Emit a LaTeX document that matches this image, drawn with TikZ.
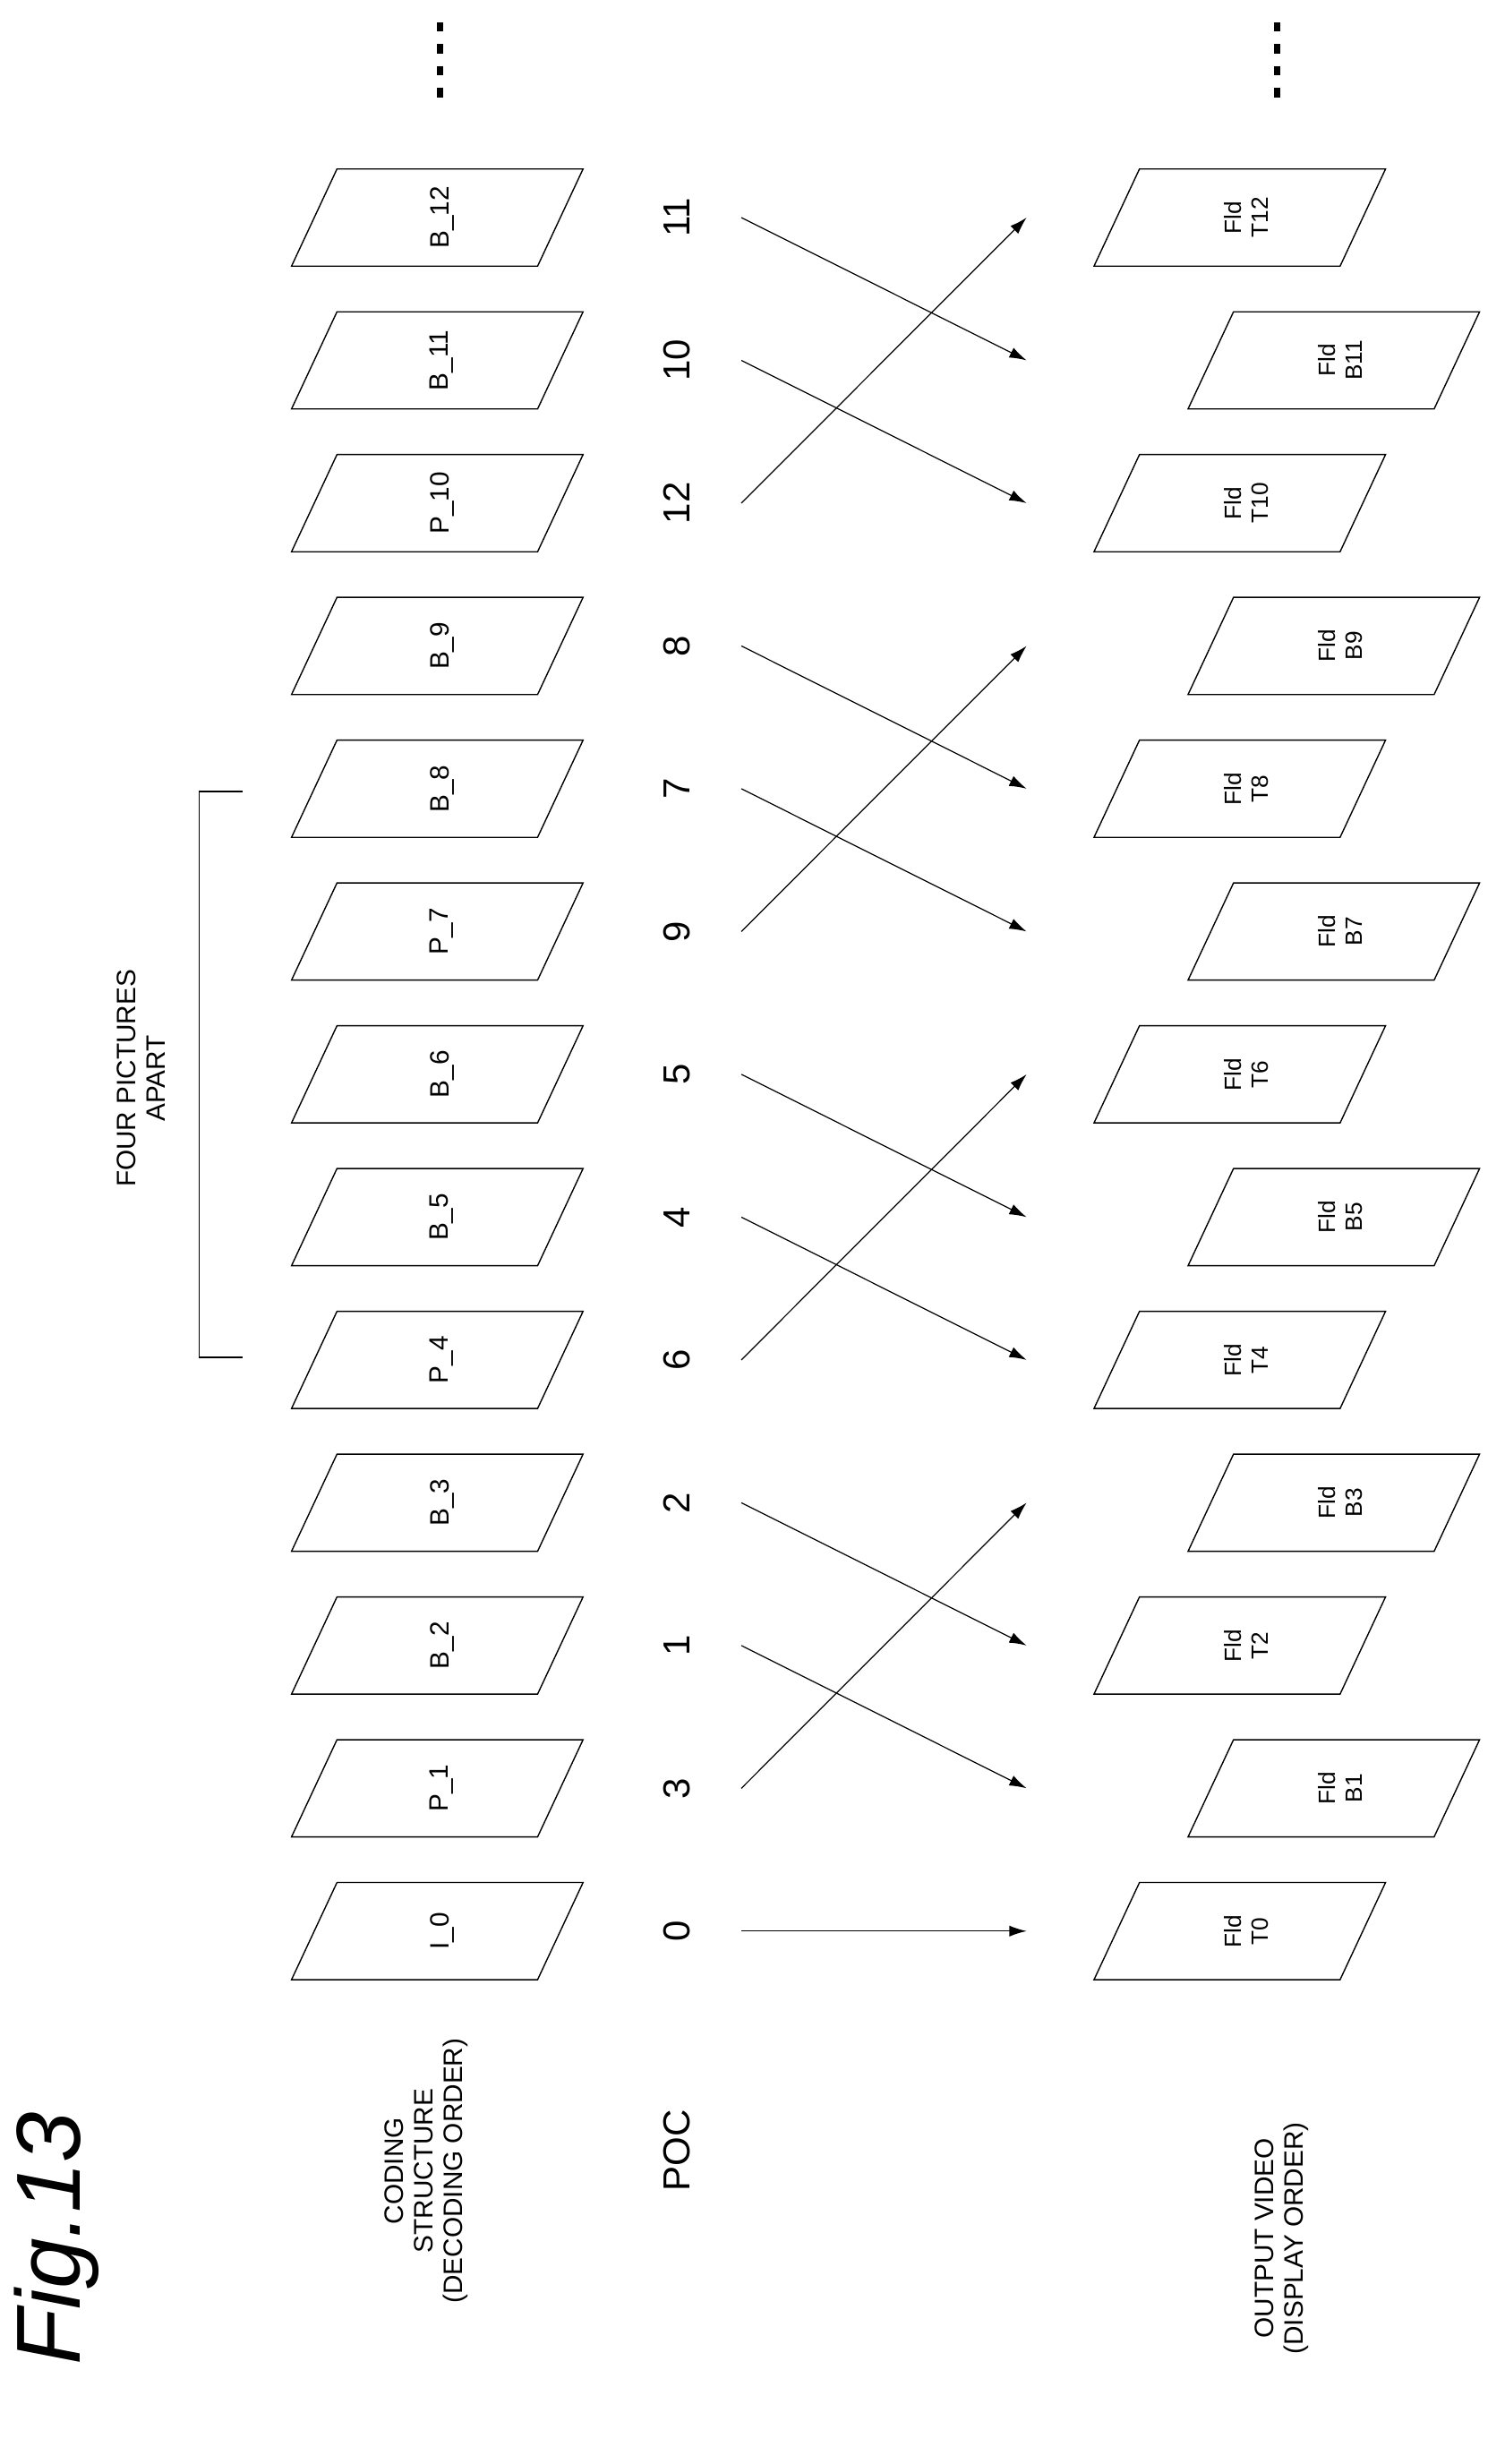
\documentclass[tikz,border=0pt]{standalone}
\usepackage{fontspec}
\setmainfont{Liberation Sans}
\usetikzlibrary{arrows.meta}
\begin{document}
\begin{tikzpicture}[x=1pt,y=-1pt,
  pic/.style={draw,line width=0.8pt},
  lbl/.style={rotate=90,font=\fontsize{17}{19}\selectfont,align=center},
  num/.style={rotate=90,font=\fontsize{24}{26}\selectfont},
  arr/.style={line width=0.7pt,-{Latex[length=11pt,width=7pt]}}]
\useasboundingbox (0,0) rectangle (960,1572);
\def\py#1{1232-91.1*#1}
% coding structure
\foreach \k/\t in {0/I\_0,1/P\_1,2/B\_2,3/B\_3,4/P\_4,5/B\_5,6/B\_6,7/P\_7,8/B\_8,9/B\_9,10/P\_10,11/B\_11,12/B\_12}{
  \draw[pic] (215,{\py{\k}-31}) -- (372,{\py{\k}-31}) -- (343,{\py{\k}+31}) -- (186,{\py{\k}+31}) -- cycle;
  \node[lbl] (c\k) at (282,{\py{\k}}) {\t};
}
% POC numbers
\foreach \k/\p in {0/0,1/3,2/1,3/2,4/6,5/4,6/5,7/9,8/7,9/8,10/12,11/10,12/11}{
  \node[num] (n\k) at (432,{\py{\k}}) {\p};
  \coordinate (s\k) at (473,{\py{\k}});
  \coordinate (e\k) at (655,{\py{\p}});
  \draw[arr] (s\k) -- (e\k);
}
% output video
\foreach \k in {0,2,4,6,8,10,12}{
  \draw[pic] (727,{\py{\k}-31}) -- (884,{\py{\k}-31}) -- (855,{\py{\k}+31}) -- (698,{\py{\k}+31}) -- cycle;
  \node[lbl,font=\fontsize{15}{17}\selectfont] (o\k) at (795,{\py{\k}}) {Fld\\T\k};
}
\foreach \k in {1,3,5,7,9,11}{
  \draw[pic] (787,{\py{\k}-31}) -- (944,{\py{\k}-31}) -- (915,{\py{\k}+31}) -- (758,{\py{\k}+31}) -- cycle;
  \node[lbl,font=\fontsize{15}{17}\selectfont] (o\k) at (855,{\py{\k}}) {Fld\\B\k};
}
% labels
\node[lbl] (lc) at (272,1385) {CODING\\STRUCTURE\\(DECODING ORDER)};
\node[num] (lp) at (432,1372) {POC};
\node[lbl] (lo) at (818,1428) {OUTPUT VIDEO\\(DISPLAY ORDER)};
\node[rotate=90,font=\fontsize{58}{60}\selectfont\itshape] (fig) at (36,1428) {Fig.13};
% bracket
\draw[line width=0.8pt] (155,505) -- (127,505) -- (127,866) -- (155,866);
\node[lbl] (fp) at (90,688) {FOUR PICTURES\\APART};
% dots
\foreach \x in {281,815}{
  \foreach \y in {14,28,42,56}{ \fill (\x-2,\y) rectangle (\x+2,\y+6); }
}
\end{tikzpicture}
\end{document}
